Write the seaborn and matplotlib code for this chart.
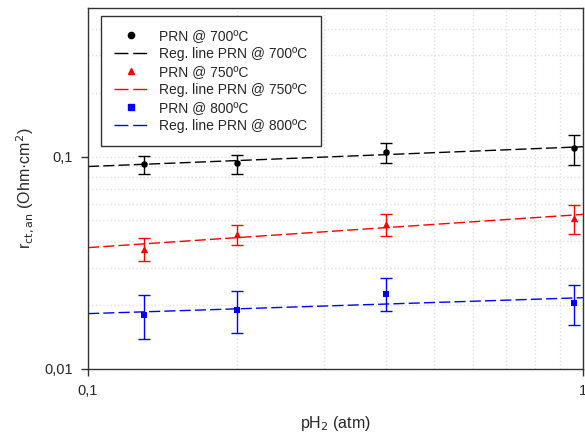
import numpy as np
import pandas as pd
import matplotlib
matplotlib.use("Agg")
import matplotlib.pyplot as plt
from matplotlib.lines import Line2D
from matplotlib.ticker import FixedLocator, FixedFormatter, NullFormatter
import seaborn as sns

sns.set_style("ticks")
plt.rcParams["font.family"] = ["Liberation Sans", "DejaVu Sans"]

# ── Datos ─────────────────────────────────────────────────────────────────
ph2 = [0.13, 0.20, 0.40, 0.96]
temps = ["700", "750", "800"]

r_700 = [0.0927, 0.0930, 0.1055, 0.1094]
lo_700 = [0.0826, 0.0830, 0.0930, 0.0914]
hi_700 = [0.1010, 0.1020, 0.1160, 0.1256]

r_750 = [0.0369, 0.0434, 0.0480, 0.0515]
lo_750 = [0.0323, 0.0385, 0.0423, 0.0432]
hi_750 = [0.0412, 0.0478, 0.0536, 0.0590]

r_800 = [0.01795, 0.0189, 0.0225, 0.0204]
lo_800 = [0.01378, 0.01476, 0.01866, 0.0161]
hi_800 = [0.0223, 0.0232, 0.0267, 0.0249]

series = {
    "700": (r_700, lo_700, hi_700),
    "750": (r_750, lo_750, hi_750),
    "800": (r_800, lo_800, hi_800),
}
colores = {"700": "black", "750": "#ff0000", "800": "#0000ff"}
marcadores = {"700": "o", "750": "^", "800": "s"}
msize = {"700": 22, "750": 28, "800": 22}

rows = []
for t in temps:
    r, lo, hi = series[t]
    for x, y, l, h in zip(ph2, r, lo, hi):
        rows.append({"pH2": x, "r": y, "lo": l, "hi": h, "T": t})
df = pd.DataFrame(rows)

fig = plt.figure(figsize=(5.85, 4.33), dpi=100)
ax = fig.add_axes([88 / 585, 64 / 433, 495 / 585, 361 / 433])
ax.set_xscale("log")
ax.set_yscale("log")

x_line = np.logspace(-1, 0, 50)
handles = []
for t in temps:
    d = df[df["T"] == t]
    c = colores[t]
    ax.errorbar(d["pH2"], d["r"],
                yerr=[d["r"] - d["lo"], d["hi"] - d["r"]],
                fmt="none", ecolor=c, elinewidth=1, capsize=4, capthick=1,
                zorder=3)
    sns.scatterplot(data=d, x="pH2", y="r", color=c, marker=marcadores[t],
                    s=msize[t], edgecolor=c, linewidth=0, ax=ax, zorder=4,
                    legend=False)
    # recta de regresión en escala log-log
    pend, inter = np.polyfit(np.log10(d["pH2"]), np.log10(d["r"]), 1)
    reg = pd.DataFrame({"x": x_line, "y": 10 ** (inter + pend * np.log10(x_line))})
    sns.lineplot(data=reg, x="x", y="y", color=c, lw=1, dashes=False,
                 ax=ax, zorder=2).lines[-1].set_dashes((8, 3))
    handles.append(Line2D([], [], color=c, marker=marcadores[t], ls="none",
                          markersize=4.5 if t != "750" else 5,
                          label=f"PRN @ {t}ºC"))
    handles.append(Line2D([], [], color=c, lw=1, dashes=(10, 3.5),
                          label=f"Reg. line PRN @ {t}ºC"))

ax.set_xlim(0.1, 1)
ax.set_ylim(0.01, 0.5)

# ── Ejes y rejilla ─────────────────────────────────────────────────────────
ax.xaxis.set_major_locator(FixedLocator([0.1, 1]))
ax.xaxis.set_major_formatter(FixedFormatter(["0,1", "1"]))
ax.xaxis.set_minor_locator(FixedLocator([0.2, 0.3, 0.4, 0.5, 0.6, 0.7, 0.8, 0.9]))
ax.xaxis.set_minor_formatter(NullFormatter())
ax.yaxis.set_major_locator(FixedLocator([0.01, 0.1]))
ax.yaxis.set_major_formatter(FixedFormatter(["0,01", "0,1"]))
ax.yaxis.set_minor_locator(FixedLocator([0.02, 0.03, 0.04, 0.05, 0.06, 0.07,
                                         0.08, 0.09, 0.2, 0.3, 0.4]))
ax.yaxis.set_minor_formatter(NullFormatter())
ax.tick_params(which="major", direction="out", length=5, width=1,
               labelsize=10.5, color="#333333")
ax.tick_params(which="minor", length=0)
ax.tick_params(axis="x", which="major", pad=6)
ax.tick_params(axis="y", which="major", pad=6)
ax.grid(which="both", color="#e0e0e0", ls=":", lw=1)
ax.set_axisbelow(True)
for sp in ax.spines.values():
    sp.set_color("#333333")
    sp.set_linewidth(1)
    sp.set_visible(True)

ax.set_xlabel("pH$_2$ (atm)", fontsize=11.5, labelpad=11)
ax.set_ylabel("r$_{\\mathrm{ct,an}}$ (Ohm·cm$^{2}$)", fontsize=11.5, labelpad=6)

leg = ax.legend(handles=handles, loc="upper left", fontsize=10,
                bbox_to_anchor=(0.026, 0.978), frameon=True, fancybox=False,
                edgecolor="#333333", framealpha=1, handlelength=2.4,
                labelspacing=0.28, borderpad=0.95, handletextpad=0.85,
                borderaxespad=0)
leg.get_frame().set_linewidth(1)

fig.savefig("out.png", dpi=100)
